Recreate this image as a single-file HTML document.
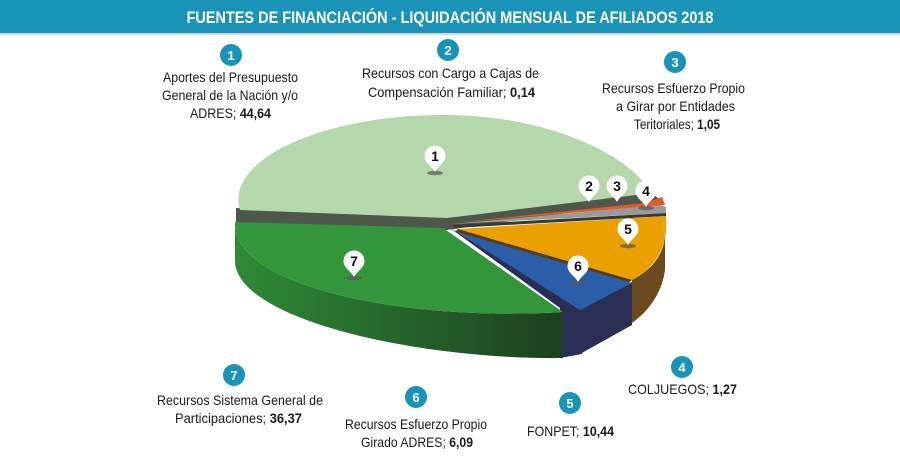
<!DOCTYPE html>
<html><head><meta charset="utf-8"><style>
html,body{margin:0;padding:0;background:#fff;width:900px;height:460px;overflow:hidden}
svg{display:block}
text{font-family:"Liberation Sans",Arial,sans-serif;fill:#1a1a1a}
.l{font-size:14px}
.n{font-size:13px;font-weight:bold;fill:#fff}
.p{font-size:14px;font-weight:bold;fill:#111}
</style></head><body>
<svg width="900" height="460" viewBox="0 0 900 460" xmlns="http://www.w3.org/2000/svg">
<defs>
<linearGradient id="g7" x1="0" y1="0" x2="1" y2="0">
<stop offset="0" stop-color="#2f8a37"/><stop offset="1" stop-color="#1c3f1f"/></linearGradient>
<g id="pin"><ellipse cx="0" cy="15" rx="8" ry="2.2" fill="#555" opacity="0.7"/><path d="M-10.5,-2 A10.5,10.5 0 1 1 10.5,-2 C10.5,5 3,8 0,14 C-3,8 -10.5,5 -10.5,-2 Z" fill="#fff"/></g>
</defs>
<rect x="0" y="0" width="900" height="33" fill="#1a93b8"/>
<rect x="0" y="33" width="900" height="2" fill="#d4d8da"/>
<text x="450" y="23" text-anchor="middle" textLength="527" lengthAdjust="spacingAndGlyphs" style="font-size:17px;font-weight:bold;fill:#fff">FUENTES DE FINANCIACIÓN - LIQUIDACIÓN MENSUAL DE AFILIADOS 2018</text>

<polygon points="236,208 447,216 652,193 660,200 447,230 236,224" fill="#4d574c"/>
<path d="M447,218 L240,210 C225,160 320,116 440,115 C540,114 625,150 652,193 Z" fill="#b4d7ab"/>
<polygon points="452,222 648,199 660,198 658,205" fill="#4d574c"/>
<polygon points="452,223 645,203 662,197 665,205" fill="#e35b1f"/>
<polygon points="452,224 660,205 666,207 666,213" fill="#9a9a9a"/>
<polygon points="452,225 666,213 666,216 455,228" fill="#3a3a35"/>
<path d="M632,280 C655,268 668,250 665,222 L665,270 C662,292 650,310 632,323 Z" fill="#6b4a1e"/>
<path d="M458,229 L666,216 C668,245 658,266 632,280 Z" fill="#e9a000"/>
<polygon points="458,229 632,280 628,283 455,232" fill="#5a3a1a"/>
<polygon points="450,228 560,308 560,358 582,354 582,310 457,232" fill="#2a2d55"/>
<path d="M580,310 L580,354 L632,325 L632,282 Z" fill="#2a2e55"/>
<path d="M457,232 L580,310 L632,283 Z" fill="#2a5ea8"/>
<path d="M235,222 L235,262 C238,320 420,360 563,358 L563,312 C400,322 232,285 235,222 Z" fill="url(#g7)"/>
<path d="M235,222 L443,228 L563,312 C400,322 232,285 235,222 Z" fill="#33963a"/>

<g transform="translate(435,158)"><use href="#pin"/><text x="0" y="3" text-anchor="middle" class="p">1</text></g>
<g transform="translate(589,188)"><use href="#pin"/><text x="0" y="3" text-anchor="middle" class="p">2</text></g>
<g transform="translate(617,188)"><use href="#pin"/><text x="0" y="3" text-anchor="middle" class="p">3</text></g>
<g transform="translate(646,193)"><use href="#pin"/><text x="0" y="3" text-anchor="middle" class="p">4</text></g>
<g transform="translate(628,231)"><use href="#pin"/><text x="0" y="3" text-anchor="middle" class="p">5</text></g>
<g transform="translate(578,268)"><use href="#pin"/><text x="0" y="3" text-anchor="middle" class="p">6</text></g>
<g transform="translate(354,263)"><use href="#pin"/><text x="0" y="3" text-anchor="middle" class="p">7</text></g>

<g fill="#1a93b8">
<circle cx="231" cy="55" r="11"/><circle cx="448" cy="50" r="11"/><circle cx="675" cy="62" r="11"/>
<circle cx="682" cy="367" r="11"/><circle cx="570" cy="403" r="11"/><circle cx="416" cy="397" r="11"/><circle cx="234" cy="375" r="11"/>
</g>
<g text-anchor="middle">
<text x="231" y="60" class="n">1</text><text x="448" y="55" class="n">2</text><text x="675" y="67" class="n">3</text>
<text x="682" y="372" class="n">4</text><text x="570" y="408" class="n">5</text><text x="416" y="402" class="n">6</text><text x="234" y="380" class="n">7</text>
</g>

<g class="l">
<text x="163" y="82" textLength="135" lengthAdjust="spacingAndGlyphs">Aportes del Presupuesto</text>
<text x="162" y="100" textLength="136" lengthAdjust="spacingAndGlyphs">General de la Nación y/o</text>
<text x="190" y="118" textLength="81" lengthAdjust="spacingAndGlyphs">ADRES; <tspan font-weight="bold">44,64</tspan></text>
<text x="362" y="78" textLength="177" lengthAdjust="spacingAndGlyphs">Recursos con Cargo a Cajas de</text>
<text x="368" y="97" textLength="167" lengthAdjust="spacingAndGlyphs">Compensación Familiar; <tspan font-weight="bold">0,14</tspan></text>
<text x="602" y="93" textLength="143" lengthAdjust="spacingAndGlyphs">Recursos Esfuerzo Propio</text>
<text x="616" y="111" textLength="119" lengthAdjust="spacingAndGlyphs">a Girar por Entidades</text>
<text x="634" y="129" textLength="86" lengthAdjust="spacingAndGlyphs">Teritoriales; <tspan font-weight="bold">1,05</tspan></text>
<text x="628" y="394" textLength="109" lengthAdjust="spacingAndGlyphs">COLJUEGOS; <tspan font-weight="bold">1,27</tspan></text>
<text x="527" y="436" textLength="87" lengthAdjust="spacingAndGlyphs">FONPET; <tspan font-weight="bold">10,44</tspan></text>
<text x="345" y="429" textLength="142" lengthAdjust="spacingAndGlyphs">Recursos Esfuerzo Propio</text>
<text x="361" y="447" textLength="112" lengthAdjust="spacingAndGlyphs">Girado ADRES; <tspan font-weight="bold">6,09</tspan></text>
<text x="157" y="405" textLength="166" lengthAdjust="spacingAndGlyphs">Recursos Sistema General de</text>
<text x="175" y="423" textLength="127" lengthAdjust="spacingAndGlyphs">Participaciones; <tspan font-weight="bold">36,37</tspan></text>
</g>
</svg>
</body></html>
